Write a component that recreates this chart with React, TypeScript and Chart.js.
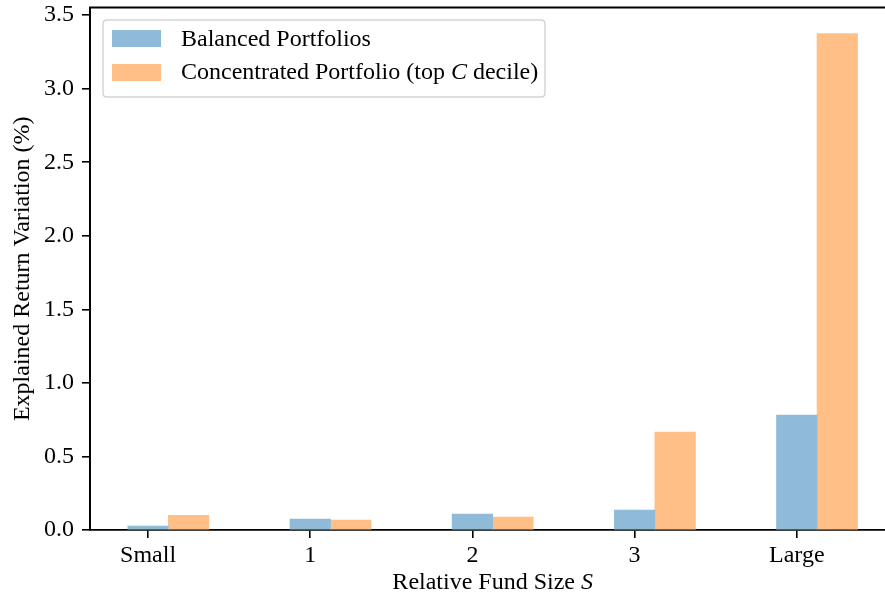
import React, { useEffect, useRef } from "react";
import { Chart, registerables } from "chart.js";

Chart.register(...registerables);

const CATEGORIES = ["Small", "1", "2", "3", "Large"];
const BALANCED = [0.027, 0.075, 0.109, 0.136, 0.782];
const CONCENTRATED = [0.1, 0.068, 0.088, 0.666, 3.375];
const Y_TICKS = [0, 0.5, 1.0, 1.5, 2.0, 2.5, 3.0, 3.5];
const SERIES_NAMES = ["Balanced Portfolios", "Concentrated Portfolio (top ", "C", " decile)"];
const X_TITLE = ["Relative Fund Size ", "S"];
const Y_TITLE = "Explained Return Variation (%)";

const BAR_W = 0.25;
const BLUE = "#8fbbd9";
const ORANGE = "#ffbf86";
const FONT = "'Liberation Serif', 'DejaVu Serif', serif";
const FS = 24;

function drawSegments(ctx: CanvasRenderingContext2D, segs: { t: string; it: boolean }[], x: number, y: number, align: "left" | "center") {
  const widths = segs.map((s) => {
    ctx.font = `${s.it ? "italic " : ""}${FS}px ${FONT}`;
    return ctx.measureText(s.t).width;
  });
  const total = widths.reduce((a, b) => a + b, 0);
  let cx = align === "center" ? x - total / 2 : x;
  segs.forEach((s, i) => {
    ctx.font = `${s.it ? "italic " : ""}${FS}px ${FONT}`;
    ctx.fillText(s.t, cx, y);
    cx += widths[i];
  });
}

const framePlugin = {
  id: "framePlugin",
  afterDraw(chart: any) {
    const { ctx, chartArea } = chart;
    const { left, right, top, bottom } = chartArea;
    ctx.save();
    ctx.strokeStyle = "#000";
    ctx.lineWidth = 1.8;
    ctx.beginPath();
    ctx.moveTo(left, bottom);
    ctx.lineTo(left, top);
    ctx.lineTo(right + 2, top);
    ctx.stroke();

    // legend
    const lx = 103, ly = 20, lw = 442, lh = 77, r = 4;
    ctx.beginPath();
    ctx.moveTo(lx + r, ly);
    ctx.lineTo(lx + lw - r, ly);
    ctx.quadraticCurveTo(lx + lw, ly, lx + lw, ly + r);
    ctx.lineTo(lx + lw, ly + lh - r);
    ctx.quadraticCurveTo(lx + lw, ly + lh, lx + lw - r, ly + lh);
    ctx.lineTo(lx + r, ly + lh);
    ctx.quadraticCurveTo(lx, ly + lh, lx, ly + lh - r);
    ctx.lineTo(lx, ly + r);
    ctx.quadraticCurveTo(lx, ly, lx + r, ly);
    ctx.closePath();
    ctx.fillStyle = "rgba(255,255,255,0.8)";
    ctx.fill();
    ctx.strokeStyle = "#d3d3d3";
    ctx.lineWidth = 1.4;
    ctx.stroke();

    ctx.fillStyle = BLUE;
    ctx.fillRect(112, 30, 49, 17);
    ctx.fillStyle = ORANGE;
    ctx.fillRect(112, 64, 49, 17);

    ctx.fillStyle = "#000";
    ctx.textBaseline = "middle";
    ctx.textAlign = "left";
    drawSegments(ctx, [{ t: SERIES_NAMES[0], it: false }], 181, 40, "left");
    drawSegments(
      ctx,
      [
        { t: SERIES_NAMES[1], it: false },
        { t: SERIES_NAMES[2], it: true },
        { t: SERIES_NAMES[3], it: false },
      ],
      181,
      73,
      "left"
    );

    // x title, centred on the full (uncropped) axis span
    const xs = chart.scales.x;
    drawSegments(
      ctx,
      [
        { t: X_TITLE[0], it: false },
        { t: X_TITLE[1], it: true },
      ],
      xs.getPixelForValue(2.125),
      583,
      "center"
    );
    ctx.restore();
  },
};

export default function App() {
  const ref = useRef<HTMLCanvasElement>(null);
  useEffect(() => {
    document.body.style.margin = "0";
    const chart = new Chart(ref.current!, {
      type: "bar",
      data: {
        datasets: [
          {
            label: "Balanced Portfolios",
            data: BALANCED.map((v, i) => ({ x: i, y: v })),
            backgroundColor: BLUE,
            grouped: false,
            categoryPercentage: 1,
            barPercentage: 1,
          },
          {
            label: "Concentrated Portfolio (top C decile)",
            data: CONCENTRATED.map((v, i) => ({ x: i + BAR_W, y: v })),
            backgroundColor: ORANGE,
            grouped: false,
            categoryPercentage: 1,
            barPercentage: 1,
          },
        ],
      } as any,
      options: {
        animation: false,
        responsive: false,
        layout: { padding: { left: 0, right: 0, top: 7.5, bottom: 0 } },
        plugins: { legend: { display: false }, tooltip: { enabled: false } },
        scales: {
          x: {
            type: "linear",
            min: -0.358,
            max: 4.544,
            offset: false,
            grid: { drawOnChartArea: false, offset: false, tickLength: 8, color: "#000", lineWidth: 1.6 },
            border: { color: "#000", width: 1.8 },
            afterBuildTicks: (s: any) => {
              s.ticks = CATEGORIES.map((_, i) => ({ value: i }));
            },
            afterFit: (s: any) => {
              s.height = 72;
              s.paddingLeft = 0;
              s.paddingRight = 0;
            },
            ticks: {
              color: "#000",
              font: { family: FONT, size: FS },
              padding: 3,
              maxRotation: 0,
              autoSkip: false,
              callback: (v: any) => CATEGORIES[Math.round(v)] ?? "",
            },
          },
          y: {
            min: 0,
            max: 3.552,
            grid: { drawOnChartArea: false, tickLength: 8, color: "#000", lineWidth: 1.6 },
            border: { color: "#000", width: 1.8 },
            afterBuildTicks: (s: any) => {
              s.ticks = Y_TICKS.map((v) => ({ value: v }));
            },
            afterFit: (s: any) => {
              s.width = 90;
              s.paddingTop = 0;
              s.paddingBottom = 0;
            },
            ticks: {
              color: "#000",
              font: { family: FONT, size: FS },
              padding: 8,
              callback: (v: any) => Number(v).toFixed(1),
            },
            title: {
              display: true,
              text: Y_TITLE,
              color: "#000",
              font: { family: FONT, size: FS },
              padding: { top: 8, bottom: 0 },
            },
          },
        },
      } as any,
      plugins: [framePlugin],
    });
    return () => chart.destroy();
  }, []);
  return (
    <div style={{ width: 885, height: 602 }}>
      <canvas ref={ref} width={885} height={602} style={{ width: 885, height: 602 }} />
    </div>
  );
}
